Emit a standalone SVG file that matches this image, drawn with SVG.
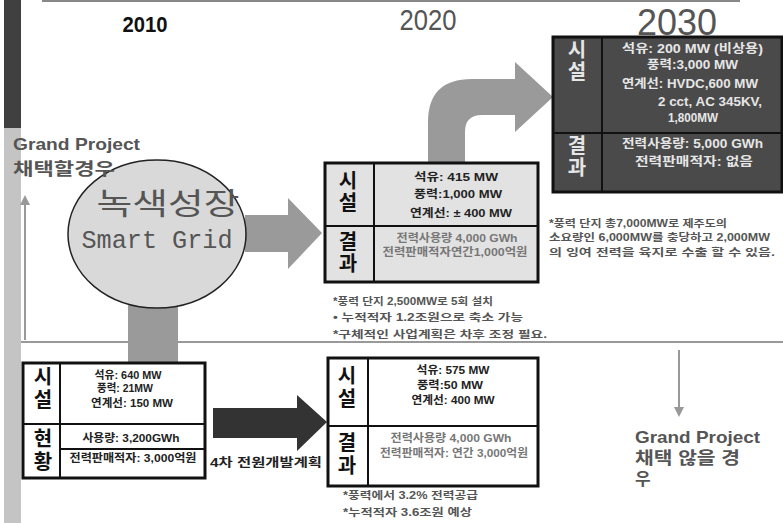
<svg xmlns="http://www.w3.org/2000/svg" width="783" height="523" viewBox="0 0 783 523">
<style>
text{font-family:"Liberation Sans","Noto Sans CJK KR",sans-serif}
.box{stroke:#111;stroke-width:3}
.div{stroke:#111;stroke-width:2}
.big{font-size:20px;font-weight:bold;fill:#111;text-anchor:middle}
.bigw{font-size:20px;font-weight:bold;fill:#e6e6e6;text-anchor:middle}
.t{font-size:11px;font-weight:bold;fill:#222;text-anchor:middle}
.tl{font-size:11px;font-weight:bold;fill:#777;text-anchor:middle}
.tw{font-size:12px;font-weight:bold;fill:#e6e6e6}
.note{font-size:10px;font-weight:bold;fill:#555}
.gp{font-size:17px;font-weight:bold;fill:#555}
.garrow{fill:#9a9a9a}
</style>
<defs>
<marker id="ah" viewBox="0 0 10 10" refX="5" refY="5" markerWidth="5" markerHeight="5" orient="auto">
<path d="M0,0 L10,5 L0,10 Z" fill="#999"/>
</marker>
</defs>
<rect width="783" height="523" fill="#fff"/>
<rect x="4" y="0" width="17" height="128" fill="#404040"/>
<rect x="4" y="128" width="17" height="395" fill="#c4c4c4"/>
<line x1="42" y1="1" x2="740" y2="1" stroke="#888" stroke-width="2"/>
<line x1="21" y1="342" x2="783" y2="342" stroke="#999" stroke-width="2"/>
<text x="145" y="32" font-size="22" font-weight="bold" fill="#111" text-anchor="middle" textLength="45" lengthAdjust="spacingAndGlyphs">2010</text>
<text x="428" y="30" font-size="30" fill="#555" text-anchor="middle" textLength="57" lengthAdjust="spacingAndGlyphs">2020</text>
<text x="677" y="35" font-size="37" fill="#555" text-anchor="middle" textLength="80" lengthAdjust="spacingAndGlyphs">2030</text>
<g id="connectors">
<rect x="128" y="290" width="50" height="75" class="garrow"/>
<path class="garrow" d="M245,215 L288,215 L288,198 L322,233 L288,269 L288,252 L245,252 Z"/>
<path class="garrow" d="M428,163 L428,122 Q428,79 472,79 L515,79 L515,62 L553,97 L515,132 L515,115 L482,115 Q465,115 465,132 L465,163 Z"/>
<path fill="#333" d="M213,408 L297,408 L297,395 L327,422 L297,451 L297,438 L213,438 Z"/>
<line x1="25" y1="340" x2="25" y2="200" stroke="#999" stroke-width="2" marker-end="url(#ah)"/>
<line x1="679" y1="350" x2="679" y2="412" stroke="#999" stroke-width="2" marker-end="url(#ah)"/>
</g>
<g id="green-growth">
<ellipse cx="157" cy="234" rx="89" ry="74" fill="#d9d9d9" stroke="#222" stroke-width="1.5"/>
<text x="168" y="214" font-size="30" fill="#555" text-anchor="middle" textLength="143" lengthAdjust="spacingAndGlyphs">녹색성장</text>
<text x="157" y="248" font-size="25" fill="#555" text-anchor="middle" style="font-family:'Liberation Mono',monospace" textLength="151" lengthAdjust="spacingAndGlyphs">Smart Grid</text>
</g>
<g id="label-left">
<text x="13" y="150" class="gp" textLength="127" lengthAdjust="spacingAndGlyphs">Grand Project</text>
<text x="13" y="175" class="gp" textLength="102" lengthAdjust="spacingAndGlyphs">채택할경우</text>
</g>
<g id="label-right">
<text x="635" y="443" class="gp" textLength="125" lengthAdjust="spacingAndGlyphs">Grand Project</text>
<text x="635" y="464" class="gp" textLength="105" lengthAdjust="spacingAndGlyphs">채택 않을 경</text>
<text x="635" y="485" class="gp">우</text>
</g>
<g id="box-2030">
<rect x="553" y="37" width="229" height="155" fill="#4a4a4a" class="box"/>
<line x1="602" y1="37" x2="602" y2="192" class="div"/>
<line x1="553" y1="133" x2="782" y2="133" class="div"/>
<text x="577" y="57" class="bigw">시</text>
<text x="577" y="79" class="bigw">설</text>
<text x="577" y="153" class="bigw">결</text>
<text x="577" y="175" class="bigw">과</text>
<text x="622" y="53" class="tw" textLength="141" lengthAdjust="spacingAndGlyphs">석유: 200 MW (비상용)</text>
<text x="647" y="69" class="tw" textLength="91" lengthAdjust="spacingAndGlyphs">풍력:3,000 MW</text>
<text x="622" y="88" class="tw" textLength="136" lengthAdjust="spacingAndGlyphs">연계선: HVDC,600 MW</text>
<text x="658" y="106" class="tw" textLength="104" lengthAdjust="spacingAndGlyphs">2 cct,  AC 345KV,</text>
<text x="668" y="122" class="tw" textLength="50" lengthAdjust="spacingAndGlyphs">1,800MW</text>
<text x="622" y="148" class="tw" textLength="141" lengthAdjust="spacingAndGlyphs">전력사용량: 5,000 GWh</text>
<text x="635" y="166" class="tw" textLength="118" lengthAdjust="spacingAndGlyphs">전력판매적자: 없음</text>
</g>
<g id="box-2020">
<rect x="325" y="163" width="213" height="119" fill="#e2e2e2" class="box"/>
<line x1="374" y1="163" x2="374" y2="282" class="div"/>
<line x1="325" y1="226" x2="538" y2="226" class="div"/>
<text x="348" y="188" class="big">시</text>
<text x="348" y="210" class="big">설</text>
<text x="348" y="249" class="big">결</text>
<text x="348" y="271" class="big">과</text>
<text x="456" y="181" class="t" textLength="84" lengthAdjust="spacingAndGlyphs">석유: 415 MW</text>
<text x="458" y="198" class="t" textLength="88" lengthAdjust="spacingAndGlyphs">풍력:1,000 MW</text>
<text x="461" y="217" class="t" textLength="102" lengthAdjust="spacingAndGlyphs">연계선: ± 400 MW</text>
<text x="457" y="242" class="tl" textLength="121" lengthAdjust="spacingAndGlyphs">전력사용량 4,000 GWh</text>
<text x="455" y="256" class="tl" textLength="145" lengthAdjust="spacingAndGlyphs">전력판매적자연간1,000억원</text>
</g>
<g id="notes-2020">
<text x="333" y="305" class="note" textLength="160" lengthAdjust="spacingAndGlyphs">*풍력 단지 2,500MW로 5회 설치</text>
<text x="333" y="321" class="note" textLength="190" lengthAdjust="spacingAndGlyphs">•  누적적자 1.2조원으로 축소 가능</text>
<text x="333" y="338" class="note" textLength="214" lengthAdjust="spacingAndGlyphs">*구체적인 사업계획은 차후 조정 필요.</text>
</g>
<g id="notes-2030">
<text x="549" y="227" class="note" textLength="178" lengthAdjust="spacingAndGlyphs">*풍력 단지 총7,000MW로 제주도의</text>
<text x="549" y="241" class="note" textLength="221" lengthAdjust="spacingAndGlyphs">소요량인 6,000MW를 충당하고 2,000MW</text>
<text x="549" y="256" class="note" textLength="226" lengthAdjust="spacingAndGlyphs">의 잉여 전력을 육지로 수출 할 수 있음.</text>
</g>
<g id="box-2010">
<rect x="23" y="363" width="182" height="115" fill="#fff" class="box"/>
<line x1="60" y1="363" x2="60" y2="478" class="div"/>
<line x1="23" y1="424" x2="205" y2="424" class="div"/>
<line x1="60" y1="449" x2="205" y2="449" class="div"/>
<text x="43" y="384" class="big">시</text>
<text x="43" y="407" class="big">설</text>
<text x="43" y="446" class="big">현</text>
<text x="43" y="469" class="big">황</text>
<text x="128" y="379" class="t" textLength="67" lengthAdjust="spacingAndGlyphs">석유: 640 MW</text>
<text x="125" y="392" class="t" textLength="56" lengthAdjust="spacingAndGlyphs">풍력: 21MW</text>
<text x="132" y="407" class="t" textLength="82" lengthAdjust="spacingAndGlyphs">연계선: 150 MW</text>
<text x="131" y="442" class="t" textLength="97" lengthAdjust="spacingAndGlyphs">사용량: 3,200GWh</text>
<text x="133" y="462" class="t" textLength="127" lengthAdjust="spacingAndGlyphs">전력판매적자: 3,000억원</text>
</g>
<g id="plan-4th">
<text x="210" y="467" font-size="12" font-weight="bold" fill="#222" textLength="112" lengthAdjust="spacingAndGlyphs">4차 전원개발계획</text>
</g>
<g id="box-2020-base">
<rect x="328" y="358" width="210" height="128" fill="#fff" class="box"/>
<line x1="368" y1="358" x2="368" y2="486" class="div"/>
<line x1="328" y1="426" x2="538" y2="426" class="div"/>
<text x="347" y="383" class="big">시</text>
<text x="347" y="406" class="big">설</text>
<text x="347" y="450" class="big">결</text>
<text x="347" y="473" class="big">과</text>
<text x="453" y="374" class="t" textLength="73" lengthAdjust="spacingAndGlyphs">석유: 575 MW</text>
<text x="450" y="389" class="t" textLength="66" lengthAdjust="spacingAndGlyphs">풍력:50 MW</text>
<text x="453" y="404" class="t" textLength="83" lengthAdjust="spacingAndGlyphs">연계선: 400 MW</text>
<text x="451" y="442" class="tl" textLength="121" lengthAdjust="spacingAndGlyphs">전력사용량 4,000 GWh</text>
<text x="454" y="457" class="tl" textLength="148" lengthAdjust="spacingAndGlyphs">전력판매적자: 연간 3,000억원</text>
</g>
<g id="notes-base">
<text x="343" y="499" class="note" textLength="135" lengthAdjust="spacingAndGlyphs">*풍력에서 3.2% 전력공급</text>
<text x="343" y="516" class="note" textLength="129" lengthAdjust="spacingAndGlyphs">*누적적자 3.6조원 예상</text>
</g>
</svg>
